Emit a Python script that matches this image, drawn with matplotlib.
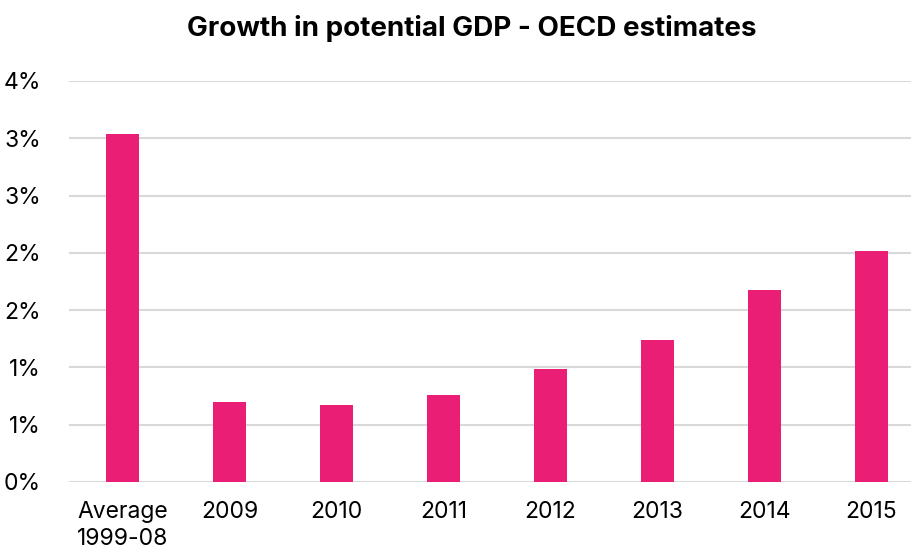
import matplotlib
matplotlib.use('Agg')
import matplotlib.pyplot as plt
from matplotlib.ticker import FuncFormatter

categories = ['Average\n1999-08', '2009', '2010', '2011', '2012', '2013', '2014', '2015']
growth = [3.04, 0.70, 0.67, 0.76, 0.99, 1.24, 1.68, 2.02]
yticks = [0, 0.5, 1.0, 1.5, 2.0, 2.5, 3.0, 3.5]

plt.rcParams['font.family'] = ['Inter', 'DejaVu Sans']

fig = plt.figure(figsize=(9.11, 5.46), dpi=100)
ax = fig.add_axes([69 / 911, 64 / 546, 856 / 911, 401 / 546])

x = list(range(len(categories)))
ax.bar(x, growth, width=0.31, color='#E91E74', zorder=3)

ax.set_xlim(-0.5, len(categories) - 0.5)
ax.set_ylim(0, 3.5)
ax.set_yticks(yticks)
# labels are rounded to whole percent, so pairs repeat
ax.yaxis.set_major_formatter(FuncFormatter(lambda v, p: '%d%%' % int(v + 0.5)))
ax.set_xticks(x)
ax.set_xticklabels(categories, fontsize=16.5, linespacing=1.25)
ax.tick_params(axis='y', labelsize=16.5, length=0, pad=20)
ax.tick_params(axis='x', length=0, pad=14)

ax.grid(axis='y', color='#d9d9d9', linewidth=1.5, zorder=0)
for s in ax.spines.values():
    s.set_visible(False)

fig.text(0.518, 0.947, 'Growth in potential GDP - OECD estimates', ha='center', va='center',
         fontsize=20, fontweight='bold')

fig.savefig('out.png', dpi=100)
